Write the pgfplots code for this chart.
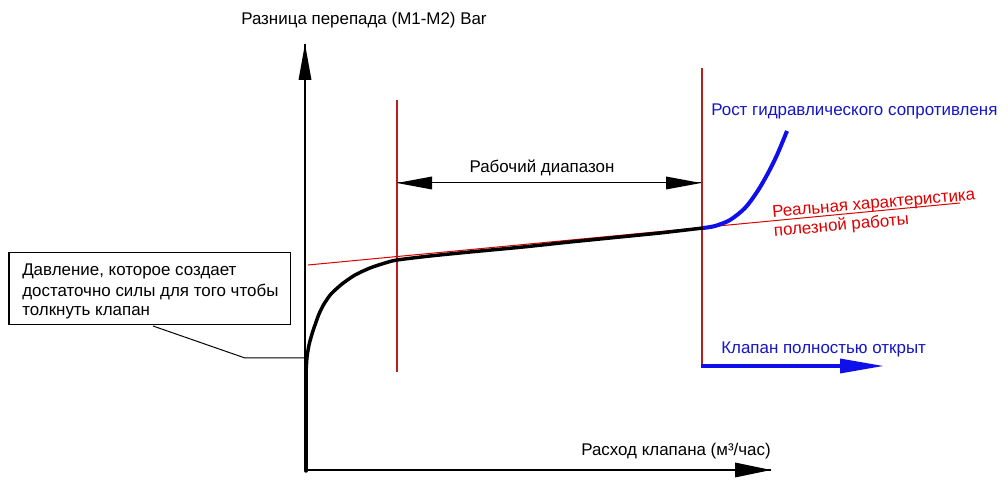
\documentclass[border=0pt]{standalone}
\usepackage{fontspec}
\setmainfont{Liberation Sans}
\usepackage{pgfplots}
\pgfplotsset{compat=1.18}
\usetikzlibrary{arrows.meta}
\definecolor{dred}{RGB}{185,30,30}
\definecolor{lred}{RGB}{220,0,0}
\definecolor{tblue}{RGB}{20,20,200}
\definecolor{cblue}{RGB}{15,15,235}
\tikzset{lbl/.style={font=\fontsize{12.7}{15}\selectfont, inner sep=0pt}}
\begin{document}
\begin{tikzpicture}
\begin{axis}[
  at={(0,0)}, anchor=south west,
  width=756pt, height=371.25pt, scale only axis,
  xmin=0, xmax=1008, ymin=0, ymax=495, y dir=reverse,
  hide axis, clip=false,
]
% axes
\draw[line width=0.9pt] (axis cs:305,470) -- (axis cs:771,470);
\draw[line width=0.9pt] (axis cs:305,470) -- (axis cs:305,44);
\fill (axis cs:771,470) -- (axis cs:735,462.5) -- (axis cs:735,477.5) -- cycle;
\fill (axis cs:305,44) -- (axis cs:298.5,80) -- (axis cs:311.5,80) -- cycle;
% red verticals
\draw[dred, line width=0.8pt] (axis cs:397,100) -- (axis cs:397,372);
\draw[dred, line width=0.8pt] (axis cs:702,68) -- (axis cs:702,366);
% tangent line
\addplot[lred, line width=0.75pt] coordinates {(308,265) (960,203)};
% main characteristic
\addplot[black, line width=2.6pt, line cap=round] coordinates {(306,471) (306,372)};
\addplot[black, line width=2.6pt, smooth, tension=0.4, line cap=round] coordinates {
(306,372) (307,357) (309,345) (312,334) (315,325) (319,314)
(324,304) (331,294) (342,284) (355,275) (370,268) (385,263) (397,260) (430,256) (470,252)
(523,247) (570,242) (620,237) (660,233) (703,228)};
% blue rise
\addplot[cblue, line width=3pt, smooth, tension=0.5] coordinates {
(703,228) (715,226) (730,220) (745,208) (757,192) (767,175) (777,155) (787,131)};
% working range arrow
\draw[line width=0.75pt] (axis cs:397,183) -- (axis cs:701,183);
\fill (axis cs:397,183) -- (axis cs:432,176.5) -- (axis cs:432,189.5) -- cycle;
\fill (axis cs:701,183) -- (axis cs:666,176.5) -- (axis cs:666,189.5) -- cycle;
\node[lbl] at (axis cs:542,168) {Рабочий диапазон};
% valve fully open arrow
\draw[cblue, line width=3pt] (axis cs:701,366) -- (axis cs:845,366);
\fill[cblue] (axis cs:883,366) -- (axis cs:840,358.5) -- (axis cs:840,373.5) -- cycle;
\node[lbl, anchor=west, text=tblue] at (axis cs:721,349) {Клапан полностью открыт};
% blue label
\node[lbl, anchor=west, text=tblue] at (axis cs:711,111) {Рост гидравлического сопротивленя};
% red rotated label
\node[lbl, font=\fontsize{12.7}{14.3}\selectfont, align=left, anchor=west, text=lred, rotate=5] at (axis cs:773,223) {Реальная характеристика\\полезной работы};
% axis labels
\node[lbl, anchor=west] at (axis cs:241,20) {Разница перепада (M1-M2) Bar};
\node[lbl, anchor=east] at (axis cs:771,451) {Расход клапана (м³/час)};
% annotation box
\draw[line width=0.75pt] (axis cs:9,253) rectangle (axis cs:290,325);
\node[lbl, anchor=west] at (axis cs:22,271) {Давление, которое создает};
\node[lbl, anchor=west] at (axis cs:22,292) {достаточно силы для того чтобы};
\node[lbl, anchor=west] at (axis cs:22,313) {толкнуть клапан};
\draw[line width=0.75pt] (axis cs:153,326) -- (axis cs:245,358) -- (axis cs:305,358);
\end{axis}
\pgfresetboundingbox
\path (0,0) rectangle (756pt,371.25pt);
\end{tikzpicture}
\end{document}
